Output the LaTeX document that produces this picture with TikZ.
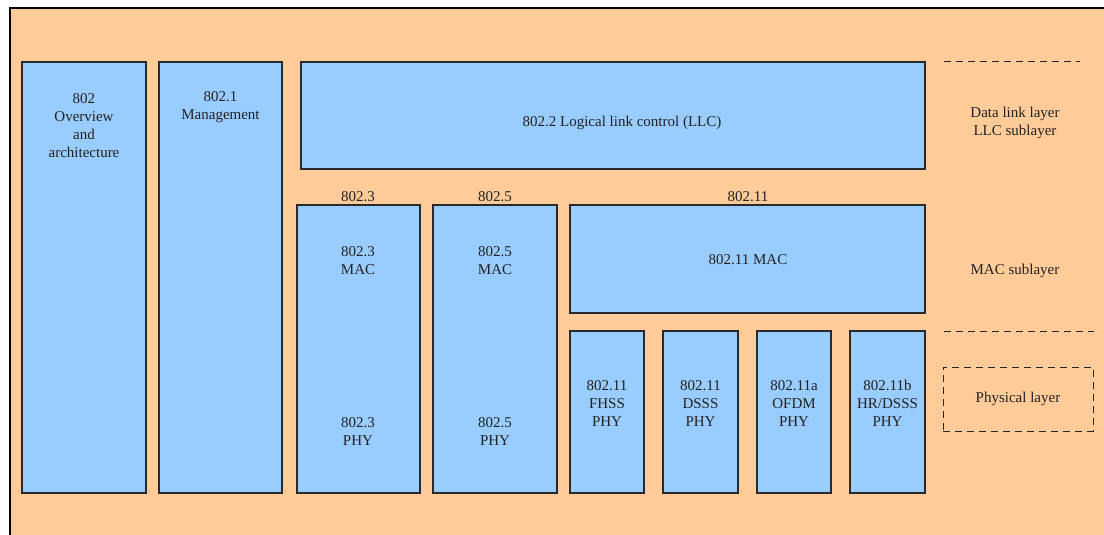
\documentclass[tikz,border=0pt]{standalone}
\usepackage{fontspec}
\setmainfont{Liberation Serif}
\definecolor{peach}{HTML}{FFCC99}
\definecolor{skyb}{HTML}{99CCFF}
\definecolor{edge}{HTML}{2A2A2A}
\definecolor{txt}{HTML}{222222}
\begin{document}
\begin{tikzpicture}[x=1pt,y=-1pt,
  blk/.style={draw=edge, line width=1.1pt, fill=skyb, anchor=north west, inner sep=0pt, outer sep=0pt},
  lbl/.style={align=center, text=txt, inner sep=0pt, font=\fontsize{15}{18}\selectfont},
  dsh/.style={draw=black!85, line width=1pt, dash pattern=on 7pt off 5pt}]
\useasboundingbox (0,0) rectangle (1104,535);
\fill[peach] (10,8) rectangle (1104,535);
\draw[line width=1.2pt, black] (10,535) -- (10,8) -- (1104,8);
% boxes
\node[blk, minimum width=124pt, minimum height=431pt] (ov) at (22,62) {};
\node[blk, minimum width=123pt, minimum height=431pt] (mg) at (159,62) {};
\node[blk, minimum width=624pt, minimum height=107pt] (llc) at (301,62) {};
\node[blk, minimum width=123pt, minimum height=288pt] (e3) at (297,205) {};
\node[blk, minimum width=124pt, minimum height=288pt] (e5) at (433,205) {};
\node[blk, minimum width=355pt, minimum height=108pt] (wmac) at (570,205) {};
\node[blk, minimum width=74pt, minimum height=162pt] (p1) at (570,331) {};
\node[blk, minimum width=75pt, minimum height=162pt] (p2) at (663,331) {};
\node[blk, minimum width=74pt, minimum height=162pt] (p3) at (757,331) {};
\node[blk, minimum width=75pt, minimum height=162pt] (p4) at (850,331) {};
% texts
\node[lbl] (tov) at (84,126) {802\\Overview\\and\\architecture};
\node[lbl] (tmg) at (220.5,107.5) {802.1\\Management};
\node[lbl] (tllc) at (622,123) {802.2 Logical link control (LLC)};
\node[lbl] (h3) at (358,197) {802.3};
\node[lbl] (h5) at (495,197) {802.5};
\node[lbl] (h11) at (748,197) {802.11};
\node[lbl] (m3) at (358,260.5) {802.3\\MAC};
\node[lbl] (y3) at (358,431.5) {802.3\\PHY};
\node[lbl] (m5) at (495,260.5) {802.5\\MAC};
\node[lbl] (y5) at (495,431.5) {802.5\\PHY};
\node[lbl] (m11) at (748,260) {802.11 MAC};
\node[lbl] (tp1) at (607,403.5) {802.11\\FHSS\\PHY};
\node[lbl] (tp2) at (700.5,403.5) {802.11\\DSSS\\PHY};
\node[lbl] (tp3) at (794,403.5) {802.11a\\OFDM\\PHY};
\node[lbl] (tp4) at (887.5,403.5) {802.11b\\HR/DSSS\\PHY};
% right side
\coordinate (d1a) at (944,62);
\coordinate (d1b) at (1080,62);
\draw[dsh] (d1a) -- (d1b);
\coordinate (d2a) at (944,331);
\coordinate (d2b) at (1094,331);
\draw[dsh] (d2a) -- (d2b);
\node[lbl] (dll) at (1015,122.5) {Data link layer\\LLC sublayer};
\node[lbl] (macs) at (1015,271) {MAC sublayer};
\node[lbl, draw=black!85, line width=1pt, dash pattern=on 7pt off 5pt, minimum width=150pt, minimum height=64pt] (phl) at (1018,399) {Physical layer};
\end{tikzpicture}
\end{document}
